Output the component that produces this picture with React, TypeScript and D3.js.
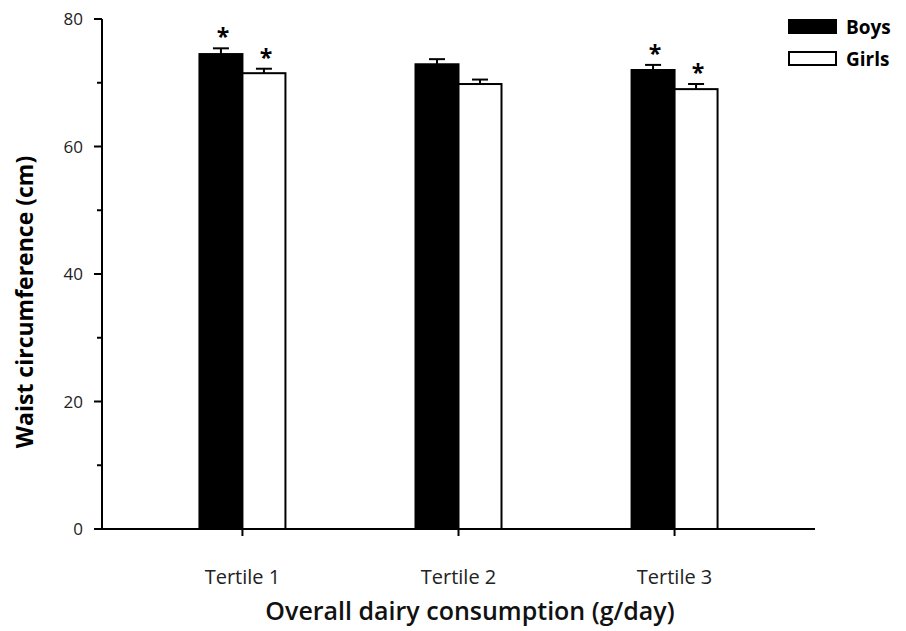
import React from "react";
import * as d3 from "d3";

const categories = ["Tertile 1", "Tertile 2", "Tertile 3"];
const boys = [74.5, 72.9, 72.0];
const boysErr = [0.9, 0.8, 0.8];
const girls = [71.5, 69.8, 69.0];
const girlsErr = [0.7, 0.7, 0.8];
const boysStar = [true, false, true];
const girlsStar = [true, false, true];
const yTicks = [0, 20, 40, 60, 80];
const yMinor = [10, 30, 50, 70];

const W = 906;
const H = 631;
const left = 102;
const right = 815;
const top = 19;
const bottom = 529;
const font = "'Open Sans', Lato, sans-serif";

export default function App() {
  const x = d3.scalePoint<string>().domain(categories).range([left, right]).padding(0.65);
  const y = d3.scaleLinear().domain([0, 80]).range([bottom, top]);
  const bw = 43;

  const series = [
    { vals: boys, err: boysErr, star: boysStar, fill: "#000", off: -bw },
    { vals: girls, err: girlsErr, star: girlsStar, fill: "#fff", off: 0 },
  ];

  return (
    <svg width={W} height={H} style={{ position: "absolute", left: 0, top: 0 }}>
      <rect width={W} height={H} fill="#fff" />
      {series.map((s, si) =>
        categories.map((c, i) => {
          const x0 = (x(c) as number) + s.off;
          const cx = x0 + bw / 2;
          const yt = y(s.vals[i]);
          const ye = y(s.vals[i] + s.err[i]);
          return (
            <g key={si + "-" + i}>
              <line x1={cx} x2={cx} y1={yt} y2={ye} stroke="#000" strokeWidth={2} />
              <line x1={cx - 8} x2={cx + 8} y1={ye} y2={ye} stroke="#000" strokeWidth={2} />
              <rect x={x0} y={yt} width={bw} height={bottom - yt} fill={s.fill} stroke="#000" strokeWidth={2} />
              {s.star[i] && (
                <text x={cx + 2} y={ye - 3} textAnchor="middle" fontFamily={font} fontWeight="bold" fontSize={23}>
                  *
                </text>
              )}
            </g>
          );
        })
      )}
      {/* axes */}
      <line x1={left} x2={left} y1={top} y2={bottom} stroke="#000" strokeWidth={2} />
      <line x1={left - 1} x2={right} y1={bottom} y2={bottom} stroke="#000" strokeWidth={2} />
      {yTicks.map((t) => (
        <g key={"t" + t}>
          <line x1={left - 8} x2={left} y1={y(t)} y2={y(t)} stroke="#000" strokeWidth={2} />
          <text x={left - 19} y={y(t) + 6} textAnchor="end" fontFamily={font} fontSize={17} fill="#222">
            {t}
          </text>
        </g>
      ))}
      {yMinor.map((t) => (
        <line key={"m" + t} x1={left - 5} x2={left} y1={y(t)} y2={y(t)} stroke="#000" strokeWidth={2} />
      ))}
      {categories.map((c) => (
        <g key={c}>
          <line x1={x(c)} x2={x(c)} y1={bottom} y2={bottom + 7} stroke="#000" strokeWidth={2} />
          <text x={x(c)} y={bottom + 55} textAnchor="middle" fontFamily={font} fontSize={20} fill="#222">
            {c}
          </text>
        </g>
      ))}
      <text
        transform={`translate(33, ${(top + bottom) / 2 + 28}) rotate(-90)`}
        textAnchor="middle"
        fontFamily={font}
        fontWeight="bold"
        fontSize={23}
      >
        Waist circumference (cm)
      </text>
      <text x={470} y={620} textAnchor="middle" fontFamily={font} fontWeight={600} fontSize={25} fill="#111">
        Overall dairy consumption (g/day)
      </text>
      {/* legend */}
      <rect x={789} y={20} width={47} height={13} fill="#000" stroke="#000" strokeWidth={2} />
      <text x={846} y={34} fontFamily={font} fontWeight="bold" fontSize={19}>
        Boys
      </text>
      <rect x={789} y={52} width={47} height={13} fill="#fff" stroke="#000" strokeWidth={2} />
      <text x={846} y={66} fontFamily={font} fontWeight="bold" fontSize={19}>
        Girls
      </text>
    </svg>
  );
}
